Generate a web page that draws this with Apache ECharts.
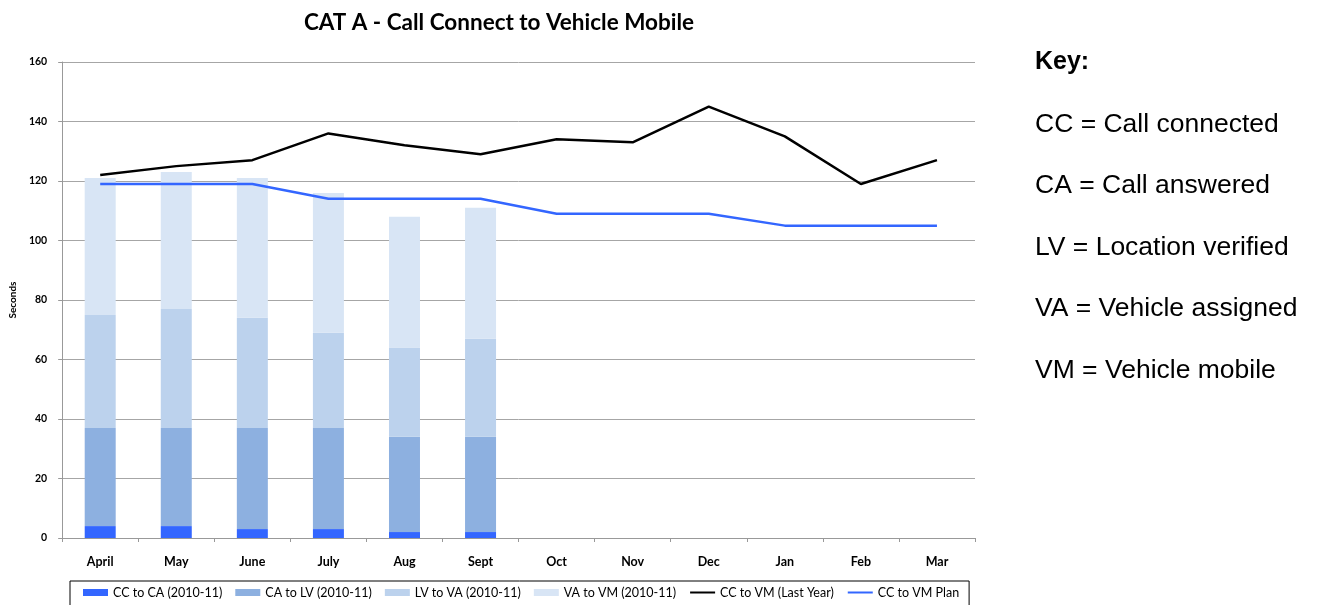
<!DOCTYPE html>
<html>
<head>
<meta charset="utf-8">
<script src="https://cdn.jsdelivr.net/npm/echarts@6/dist/echarts.min.js"></script>
<style>html,body{margin:0;padding:0;background:#fff;}#c{width:1319px;height:605px;}</style>
</head>
<body>
<div id="c"></div>
<script>
const months = ['April','May','June','July','Aug','Sept','Oct','Nov','Dec','Jan','Feb','Mar'];
const ccToCa = [4, 4, 3, 3, 2, 2];
const caToLv = [33, 33, 34, 34, 32, 32];
const lvToVa = [38, 40, 37, 32, 30, 33];
const vaToVm = [46, 46, 47, 47, 44, 44];
const lastYear = [122, 125, 127, 136, 132, 129, 134, 133, 145, 135, 119, 127];
const plan = [119, 119, 119, 114, 114, 114, 109, 109, 109, 105, 105, 105];
const yTicks = [0, 20, 40, 60, 80, 100, 120, 140, 160];
const keyLines = ['CC = Call connected','CA = Call answered','LV = Location verified','VA = Vehicle assigned','VM = Vehicle mobile'];

const chart = echarts.init(document.getElementById('c'), null, {renderer:'canvas'});
const F = 'Lato, "Open Sans", sans-serif';
const barNames = ['CC to CA (2010-11)','CA to LV (2010-11)','LV to VA (2010-11)','VA to VM (2010-11)'];
const barColors = ['#3366FF','#8DB0E0','#BCD2ED','#D8E5F5'];
const barData = [ccToCa, caToLv, lvToVa, vaToVm];
const series = barData.map((d,i)=>({
  name: barNames[i], type:'bar', stack:'s', data:d, barWidth:31,
  itemStyle:{color:barColors[i]}, emphasis:{disabled:true}
}));
series.push({name:'CC to VM (Last Year)', type:'line', data:lastYear, symbol:'none',
  lineStyle:{color:'#000', width:2.5}, itemStyle:{color:'#000'}, z:5});
series.push({name:'CC to VM Plan', type:'line', data:plan, symbol:'none',
  lineStyle:{color:'#3366FF', width:2.5}, itemStyle:{color:'#3366FF'}, z:5});

const KF = '"Liberation Sans", Arial, sans-serif';
const graphics = [{type:'text', left:1035, top:50, style:{text:'Key:', font:'bold 25px ' + KF, fill:'#000'}}];
keyLines.forEach((t,i)=>{
  graphics.push({type:'text', left:1035, top:111 + i*61.5, style:{text:t, font:'26.5px ' + KF, fill:'#000'}});
});

chart.setOption({
  animation:false,
  title:{text:'CAT A - Call Connect to Vehicle Mobile', left:494, textAlign:'center', top:6,
    textStyle:{fontFamily:F, fontWeight:'bold', fontSize:22.5, color:'#000'}},
  grid:{left:61, right:344, top:62, bottom:67},
  legend:{
    data:[...barNames.map(n=>({name:n, icon:'rect'})),
      {name:'CC to VM (Last Year)', itemStyle:{opacity:0}},
      {name:'CC to VM Plan', itemStyle:{opacity:0}}],
    left:70, top:581, width:906, itemWidth:25, itemHeight:7, itemGap:13,
    borderColor:'#000', borderWidth:1, padding:[5,10,8,13],
    textStyle:{fontFamily:F, fontSize:12.5, color:'#000'}
  },
  xAxis:{type:'category', data:months,
    axisLine:{lineStyle:{color:'#999'}}, axisTick:{show:true, length:4, lineStyle:{color:'#999'}},
    axisLabel:{fontFamily:F, fontWeight:'bold', fontSize:12.5, color:'#000', margin:17}},
  yAxis:{type:'value', min:0, max:160, interval:20, name:'Seconds', nameLocation:'middle', nameGap:39,
    nameTextStyle:{fontFamily:F, fontWeight:'bold', fontSize:10, color:'#000'},
    axisLine:{show:true, lineStyle:{color:'#999'}}, axisTick:{show:true, length:4, lineStyle:{color:'#999'}},
    splitLine:{lineStyle:{color:'#A6A6A6'}},
    axisLabel:{fontFamily:F, fontWeight:'bold', fontSize:10.5, color:'#000', margin:15,
      formatter:v=>yTicks.includes(v)?String(v):''}},
  graphic:graphics,
  series:series
});
</script>
</body>
</html>
